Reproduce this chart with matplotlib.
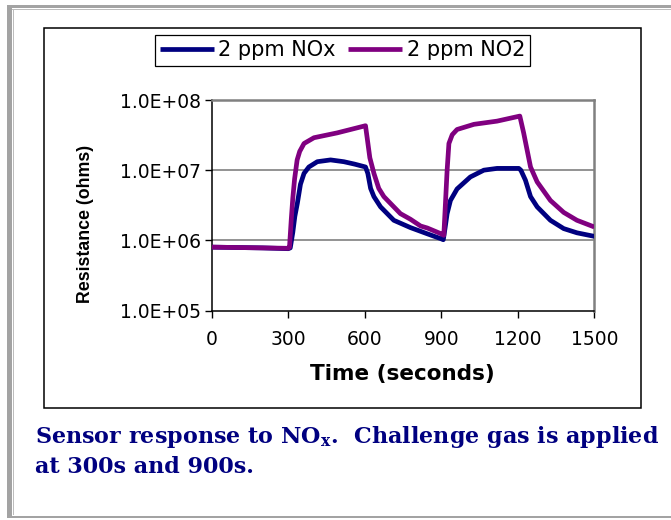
import matplotlib
matplotlib.use("Agg")
import matplotlib.pyplot as plt
from matplotlib.patches import Rectangle

# ---------------- data ----------------
t_nox = [0, 100, 200, 300, 308, 318, 326, 336, 348, 362, 381, 414, 466, 518, 560, 603,
         612, 623, 636, 662, 714, 779, 845, 900, 908,
         915, 923, 936, 962, 1014, 1067, 1119, 1204,
         1212, 1230, 1250, 1276, 1328, 1380, 1432, 1500]
r_nox = [8.0e5, 7.9e5, 7.8e5, 7.6e5, 7.8e5, 1.3e6, 2.2e6, 3.4e6, 6.3e6, 9.0e6, 1.11e7, 1.32e7, 1.40e7, 1.32e7, 1.22e7, 1.11e7,
         9.0e6, 5.5e6, 4.2e6, 3.0e6, 1.93e6, 1.52e6, 1.24e6, 1.05e6, 1.02e6,
         1.5e6, 2.4e6, 3.7e6, 5.4e6, 8.0e6, 1.0e7, 1.06e7, 1.06e7,
         1.0e7, 7.2e6, 4.2e6, 3.0e6, 1.93e6, 1.47e6, 1.28e6, 1.14e6]

t_no2 = [0, 100, 200, 300, 305, 312, 318, 325, 335, 345, 362, 401, 492, 603,
         610, 620, 636, 655, 675, 714, 740, 779, 819, 845, 897, 910,
         917, 923, 930, 943, 962, 1028, 1119, 1208,
         1223, 1250, 1276, 1328, 1380, 1432, 1500]
r_no2 = [8.0e5, 7.9e5, 7.8e5, 7.7e5, 8.0e5, 2.0e6, 4.0e6, 7.5e6, 1.4e7, 1.85e7, 2.4e7, 2.9e7, 3.4e7, 4.3e7,
         2.8e7, 1.5e7, 9.0e6, 5.5e6, 4.2e6, 3.0e6, 2.4e6, 2.0e6, 1.6e6, 1.5e6, 1.25e6, 1.18e6,
         3.7e6, 1.0e7, 2.4e7, 3.2e7, 3.8e7, 4.5e7, 5.0e7, 5.9e7,
         3.4e7, 1.11e7, 6.8e6, 3.7e6, 2.5e6, 1.93e6, 1.55e6]

series_labels = ["2 ppm NOx", "2 ppm NO2"]
x_ticks = [0, 300, 600, 900, 1200, 1500]
y_ticks = [1e5, 1e6, 1e7, 1e8]
y_tick_labels = ["1.0E+05", "1.0E+06", "1.0E+07", "1.0E+08"]
x_label = "Time (seconds)"
y_label = "Resistance (ohms)"
caption1 = r"Sensor response to NO$_{\mathbf{x}}$.  Challenge gas is applied"
caption2 = "at 300s and 900s."

# ---------------- figure ----------------
W, H = 671, 520
plt.rcParams["mathtext.fontset"] = "dejavuserif"
fig = plt.figure(figsize=(W / 100, H / 100), dpi=100)
fig.patch.set_facecolor("white")


def fx(px):
    return px / W


def fy(py):
    return 1 - py / H


def frect(x0, y0, x1, y1, color, z=0):
    fig.patches.append(Rectangle((fx(x0), fy(y1)), fx(x1 - x0), (y1 - y0) / H,
                                 transform=fig.transFigure, facecolor=color,
                                 edgecolor="none", zorder=z))


# outer gray frame
frect(7, 5, 12, 518, "#a3a3a3")
frect(7, 5, W, 7.5, "#a3a3a3")
frect(12, 9, W, 10.3, "#bdbdbd")
frect(13, 9, 14.3, 515, "#bdbdbd")
frect(7, 515.5, W, 518, "#a3a3a3")

# chart box
fig.patches.append(Rectangle((fx(44), fy(408)), fx(641 - 44), (408 - 28) / H, transform=fig.transFigure,
                             facecolor="white", edgecolor="black", linewidth=1.1, zorder=1))

# axes
left, right, top, bottom = 211.7, 594.3, 100, 310.5
ax = fig.add_axes([fx(left), fy(bottom), fx(right - left), (bottom - top) / H])
ax.set_zorder(3)
ax.set_facecolor("white")

navy = "#000080"
purple = "#800080"
l1, = ax.plot(t_nox, r_nox, color=navy, lw=3.4, solid_joinstyle="round", solid_capstyle="butt",
              label=series_labels[0], zorder=3)
l2, = ax.plot(t_no2, r_no2, color=purple, lw=3.4, solid_joinstyle="round", solid_capstyle="butt",
              label=series_labels[1], zorder=4)

ax.set_yscale("log")
ax.set_xlim(0, 1500)
ax.set_ylim(1e5, 1e8)
ax.set_xticks(x_ticks)
ax.set_xticklabels([str(v) for v in x_ticks])
ax.set_yticks(y_ticks)
ax.set_yticklabels(y_tick_labels)
ax.yaxis.set_minor_locator(matplotlib.ticker.NullLocator())
ax.tick_params(axis="both", direction="out", length=5, width=1, color="black",
               labelsize=13.5, labelcolor="black")
ax.tick_params(axis="x", pad=9)
ax.tick_params(axis="y", pad=3)
for lab in ax.get_xticklabels() + ax.get_yticklabels():
    lab.set_family("DejaVu Sans")

for yv in [1e6, 1e7]:
    ax.axhline(yv, color="#808080", lw=1.2, zorder=1)

ax.spines["top"].set_color("#808080")
ax.spines["right"].set_color("#808080")
ax.spines["top"].set_linewidth(1.8)
ax.spines["right"].set_linewidth(1.8)
ax.spines["left"].set_color("black")
ax.spines["bottom"].set_color("black")
ax.spines["left"].set_linewidth(1.1)
ax.spines["bottom"].set_linewidth(1.1)

# axis labels
fig.text(fx(402), fy(374), x_label, ha="center", va="center", fontsize=15.5,
         fontweight="bold", family="DejaVu Sans")
fig.text(fx(86), fy(224), y_label, ha="center", va="center", rotation=90, fontsize=12.8,
         fontweight="bold", family="Liberation Sans")

# legend
leg = fig.legend(handles=[l1, l2], labels=series_labels, loc="center",
                 bbox_to_anchor=(fx((147 + 538) / 2), fy((34 + 67) / 2)), ncol=2,
                 frameon=True, fancybox=False, edgecolor="black", framealpha=1,
                 prop={"family": "DejaVu Sans", "size": 15},
                 handlelength=2.6, handletextpad=0.2, columnspacing=0.6,
                 borderpad=0.25, borderaxespad=0)
leg.get_frame().set_linewidth(0.9)
leg.set_zorder(5)

# caption
cap_color = "#000080"
fig.text(fx(35), fy(443), caption1, ha="left", va="baseline", fontsize=16,
         family="DejaVu Serif", fontweight="bold", color=cap_color)
fig.text(fx(35), fy(473), caption2, ha="left", va="baseline", fontsize=16,
         family="DejaVu Serif", fontweight="bold", color=cap_color)

fig.savefig("out.png", dpi=100, facecolor="white")
